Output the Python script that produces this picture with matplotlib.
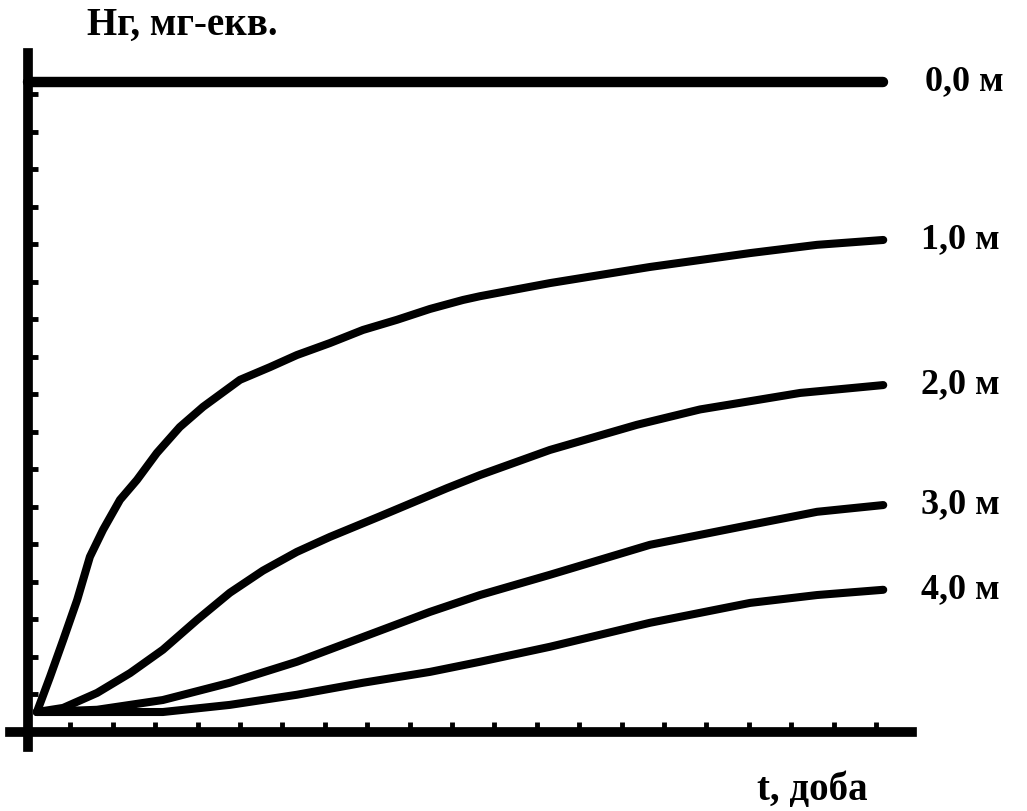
import matplotlib
matplotlib.use("Agg")
from matplotlib import pyplot as plt

plt.rcParams['font.family'] = ['Liberation Serif', 'DejaVu Serif']

# Data (x in tick units of t, y in tick units of Hг)
x_10 = [0.21, 0.52, 0.83, 1.16, 1.46, 1.77, 2.17, 2.57, 3.04, 3.58, 4.13, 5.0, 5.71, 6.34, 7.12,
        7.9, 8.7, 9.48, 10.26, 10.66, 12.31, 14.67, 17.03, 18.61, 20.17]
y_10 = [0.53, 1.47, 2.45, 3.52, 4.67, 5.39, 6.19, 6.72, 7.44, 8.13, 8.67, 9.39, 9.73, 10.05, 10.37,
        10.72, 10.99, 11.28, 11.52, 11.62, 11.97, 12.4, 12.77, 12.99, 13.12]

x_20 = [0.21, 0.83, 1.63, 2.41, 3.18, 3.99, 4.76, 5.54, 6.34, 7.12, 8.3, 9.08, 9.88,
        10.66, 12.31, 14.36, 15.85, 18.21, 20.17]
y_20 = [0.53, 0.64, 1.04, 1.57, 2.19, 2.99, 3.71, 4.3, 4.8, 5.2, 5.75, 6.12, 6.5,
        6.85, 7.52, 8.19, 8.6, 9.04, 9.25]

x_30 = [0.21, 1.63, 3.18, 4.76, 6.34, 7.9, 9.48, 10.66, 12.31, 14.67, 17.03, 18.61, 20.17]
y_30 = [0.53, 0.59, 0.85, 1.31, 1.87, 2.53, 3.2, 3.65, 4.19, 4.99, 5.52, 5.87, 6.05]

x_40 = [0.21, 3.18, 4.76, 6.34, 7.9, 9.48, 10.66, 12.31, 14.67, 17.03, 18.61, 20.17]
y_40 = [0.53, 0.53, 0.72, 0.99, 1.31, 1.6, 1.87, 2.27, 2.91, 3.44, 3.65, 3.79]

x_00 = [0.0, 20.17]
y_00 = [17.33, 17.33]

labels = ['0,0 м', '1,0 м', '2,0 м', '3,0 м', '4,0 м']
x_ticks = list(range(1, 21))
y_ticks = list(range(1, 18))

fig = plt.figure(figsize=(10.27, 8.11), dpi=100)
ax = fig.add_axes([0, 0, 1, 1])
ax.set_xlim(-0.66, 23.56)
ax.set_ylim(-2.11, 19.52)

# Curves
series = [(x_00, y_00), (x_10, y_10), (x_20, y_20), (x_30, y_30), (x_40, y_40)]
for i, (xs, ys) in enumerate(series):
    lw = 7.5 if i == 0 else 5.8
    ax.plot(xs, ys, color='black', lw=lw, solid_capstyle='round', solid_joinstyle='round')
    dx = 0.99 if i == 0 else 0.9
    ax.text(xs[-1] + dx, ys[-1], labels[i], fontsize=26, fontweight='bold',
            ha='left', va='center')

# Axes through the origin
for side in ['top', 'right']:
    ax.spines[side].set_visible(False)
ax.spines['left'].set_position(('data', 0))
ax.spines['bottom'].set_position(('data', 0))
ax.spines['left'].set_linewidth(7)
ax.spines['bottom'].set_linewidth(7)
ax.spines['left'].set_bounds(-0.4, 18.1)
ax.spines['bottom'].set_bounds(-0.43, 20.85)

ax.set_xticks(x_ticks)
ax.set_yticks(y_ticks)
ax.set_xticklabels([])
ax.set_yticklabels([])
ax.tick_params(direction='in', length=7, width=3.5, color='black')
ax.patch.set_visible(False)

# Axis titles
ax.text(1.39, 18.85, 'Нг, мг-екв.', fontsize=28, fontweight='bold', ha='left', va='center')
ax.text(17.19, -1.55, 't, доба', fontsize=28, fontweight='bold', ha='left', va='center')

fig.savefig('out.png', dpi=100)
